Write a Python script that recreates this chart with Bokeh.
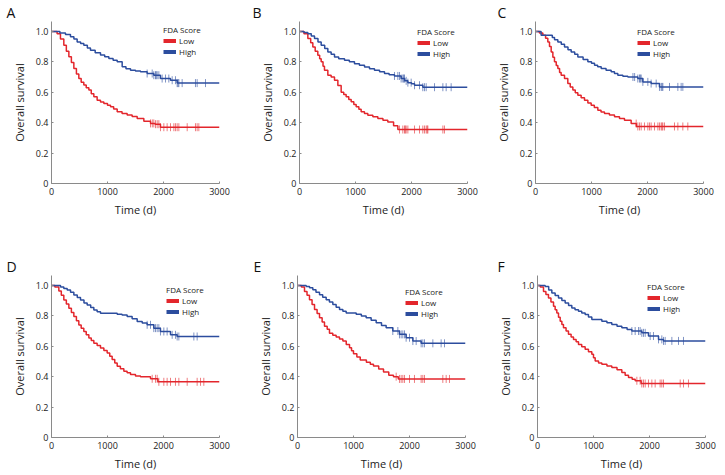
import numpy as np
from bokeh.plotting import figure
from bokeh.models import Range1d, FixedTicker, Legend, LegendItem, Title
from bokeh.layouts import column, row
from bokeh.embed import file_html
from bokeh.resources import INLINE

# ---------------- data ----------------
x_ticks = [0, 1000, 2000, 3000]
y_ticks = [0, 0.2, 0.4, 0.6, 0.8, 1.0]
y_tick_labels = {0: "0", 0.2: "0.2", 0.4: "0.4", 0.6: "0.6", 0.8: "0.8", 1.0: "1.0"}
panel_names = ["A", "B", "C", "D", "E", "F"]
group_names = ["Low", "High"]
legend_title = "FDA Score"
x_label = "Time (d)"
y_label = "Overall survival"

A_low_t = [0, 100, 160, 220, 265, 310, 355, 399, 445, 488, 530, 577, 620, 667, 710, 756, 815, 875, 935, 1000, 1054, 1110, 1173, 1260, 1351, 1440, 1530, 1649, 1768, 1850, 1946, 3000]
A_low_s = [1.0, 0.985, 0.95, 0.909, 0.87, 0.833, 0.795, 0.756, 0.72, 0.69, 0.665, 0.647, 0.63, 0.614, 0.59, 0.57, 0.548, 0.535, 0.526, 0.515, 0.504, 0.49, 0.471, 0.46, 0.45, 0.44, 0.428, 0.41, 0.395, 0.39, 0.37, 0.37]
A_high_t = [0, 150, 250, 339, 400, 458, 520, 577, 640, 696, 780, 875, 950, 1024, 1100, 1173, 1262, 1330, 1411, 1500, 1589, 1708, 1827, 1946, 2125, 2244, 3000]
A_high_s = [1.0, 0.99, 0.98, 0.964, 0.95, 0.931, 0.92, 0.909, 0.89, 0.876, 0.86, 0.844, 0.833, 0.822, 0.81, 0.8, 0.767, 0.755, 0.745, 0.74, 0.734, 0.723, 0.712, 0.69, 0.679, 0.66, 0.66]
A_low_c = [1768, 1800, 1827, 1857, 1887, 1917, 1946, 2006, 2065, 2125, 2185, 2214, 2244, 2274, 2423, 2571, 2601, 2631]
A_high_c = [1708, 1798, 1827, 1857, 1870, 1887, 1917, 1976, 2036, 2095, 2155, 2214, 2244, 2260, 2274, 2333, 2571, 2601, 2750]

B_low_t = [0, 80, 149, 200, 238, 280, 327, 360, 387, 420, 446, 506, 565, 625, 685, 744, 790, 833, 880, 923, 970, 1012, 1060, 1101, 1160, 1220, 1310, 1399, 1490, 1577, 1680, 1756, 3000]
B_low_s = [1.0, 0.985, 0.953, 0.925, 0.898, 0.87, 0.843, 0.82, 0.8, 0.77, 0.745, 0.712, 0.7, 0.678, 0.645, 0.6, 0.585, 0.57, 0.553, 0.537, 0.52, 0.504, 0.488, 0.471, 0.46, 0.449, 0.438, 0.427, 0.416, 0.405, 0.38, 0.355, 0.355]
B_high_t = [0, 80, 149, 210, 268, 330, 387, 450, 506, 565, 625, 700, 804, 890, 982, 1070, 1161, 1250, 1339, 1430, 1518, 1600, 1696, 1815, 1880, 1935, 2000, 2054, 2202, 3000]
B_high_s = [1.0, 0.993, 0.985, 0.97, 0.953, 0.93, 0.909, 0.887, 0.865, 0.85, 0.832, 0.82, 0.81, 0.8, 0.788, 0.777, 0.766, 0.755, 0.745, 0.734, 0.723, 0.715, 0.707, 0.69, 0.675, 0.663, 0.655, 0.646, 0.633, 0.633]
B_low_c = [1786, 1845, 1875, 1890, 1905, 1935, 2054, 2143, 2202, 2232, 2262, 2280, 2292, 2560, 2589]
B_high_c = [1696, 1756, 1786, 1815, 1845, 1860, 1875, 1905, 1935, 1994, 2054, 2143, 2202, 2232, 2262, 2411, 2560, 2619, 2708]

C_low_t = [0, 70, 131, 180, 220, 250, 280, 310, 339, 370, 399, 430, 458, 518, 577, 620, 667, 710, 756, 815, 875, 935, 994, 1050, 1113, 1170, 1232, 1320, 1411, 1500, 1589, 1708, 1800, 3000]
C_low_s = [1.0, 0.99, 0.975, 0.955, 0.93, 0.9, 0.865, 0.83, 0.8, 0.775, 0.756, 0.73, 0.712, 0.69, 0.657, 0.635, 0.614, 0.597, 0.58, 0.564, 0.548, 0.53, 0.515, 0.5, 0.482, 0.47, 0.46, 0.45, 0.438, 0.427, 0.416, 0.394, 0.375, 0.375]
C_high_t = [0, 100, 300, 340, 399, 460, 518, 580, 637, 700, 756, 850, 935, 1000, 1054, 1110, 1173, 1260, 1351, 1410, 1470, 1560, 1649, 1827, 1917, 2065, 2214, 3000]
C_high_s = [1.0, 0.975, 0.96, 0.945, 0.93, 0.915, 0.898, 0.88, 0.865, 0.85, 0.832, 0.815, 0.8, 0.79, 0.778, 0.767, 0.756, 0.745, 0.734, 0.723, 0.712, 0.705, 0.7, 0.69, 0.668, 0.657, 0.635, 0.635]
C_low_c = [1798, 1827, 1857, 1887, 1946, 2006, 2036, 2065, 2125, 2185, 2214, 2244, 2260, 2274, 2304, 2482, 2542, 2631, 2720]
C_high_c = [1740, 1770, 1827, 1857, 1872, 1887, 1917, 2006, 2065, 2155, 2214, 2244, 2260, 2274, 2393, 2542, 2601, 2631]

D_low_t = [0, 60, 131, 175, 220, 265, 310, 355, 399, 445, 488, 530, 577, 620, 667, 710, 756, 815, 875, 935, 994, 1040, 1083, 1130, 1173, 1230, 1292, 1350, 1411, 1500, 1589, 1768, 1900, 3000]
D_low_s = [1.0, 0.99, 0.963, 0.935, 0.904, 0.877, 0.85, 0.822, 0.795, 0.767, 0.74, 0.718, 0.697, 0.675, 0.654, 0.637, 0.62, 0.604, 0.588, 0.572, 0.556, 0.534, 0.512, 0.49, 0.468, 0.452, 0.436, 0.425, 0.414, 0.405, 0.399, 0.386, 0.366, 0.366]
D_high_t = [0, 161, 220, 280, 340, 399, 460, 518, 580, 637, 700, 756, 815, 875, 1173, 1260, 1351, 1440, 1530, 1620, 1708, 1827, 1946, 2125, 2244, 3000]
D_high_s = [1.0, 0.99, 0.98, 0.97, 0.955, 0.937, 0.92, 0.904, 0.885, 0.871, 0.855, 0.839, 0.827, 0.817, 0.81, 0.805, 0.795, 0.78, 0.763, 0.752, 0.741, 0.719, 0.697, 0.675, 0.664, 0.664]
D_low_c = [1798, 1857, 1887, 1917, 2006, 2065, 2125, 2214, 2274, 2423, 2601, 2661, 2720]
D_high_c = [1708, 1768, 1827, 1857, 1887, 1917, 1946, 2006, 2065, 2155, 2214, 2244, 2274, 2542, 2601]

E_low_t = [0, 70, 125, 170, 214, 260, 304, 350, 393, 440, 482, 530, 571, 630, 690, 750, 810, 870, 929, 965, 1000, 1060, 1120, 1230, 1300, 1357, 1450, 1536, 1630, 1714, 1800, 3000]
E_low_s = [1.0, 0.99, 0.96, 0.935, 0.906, 0.875, 0.841, 0.815, 0.787, 0.76, 0.732, 0.712, 0.685, 0.672, 0.66, 0.648, 0.635, 0.612, 0.59, 0.57, 0.55, 0.53, 0.51, 0.495, 0.482, 0.47, 0.45, 0.43, 0.41, 0.4, 0.385, 0.385]
E_high_t = [0, 155, 215, 274, 330, 393, 450, 512, 570, 631, 690, 750, 810, 869, 1048, 1140, 1226, 1315, 1405, 1500, 1583, 1702, 1821, 1940, 2060, 2208, 3000]
E_high_s = [1.0, 0.993, 0.985, 0.972, 0.955, 0.939, 0.922, 0.906, 0.89, 0.874, 0.857, 0.841, 0.83, 0.819, 0.81, 0.798, 0.787, 0.77, 0.754, 0.737, 0.721, 0.7, 0.678, 0.656, 0.634, 0.619, 0.619]
E_low_c = [1762, 1821, 1851, 1881, 1911, 2000, 2089, 2208, 2238, 2268, 2595, 2655, 2714]
E_high_c = [1702, 1792, 1821, 1851, 1881, 1911, 1940, 2000, 2060, 2119, 2208, 2238, 2268, 2417, 2565, 2625]

F_low_t = [0, 50, 107, 150, 196, 240, 286, 315, 345, 375, 405, 435, 464, 510, 553, 600, 643, 690, 732, 790, 851, 910, 970, 1000, 1030, 1090, 1149, 1240, 1327, 1420, 1506, 1565, 1625, 1690, 1744, 1850, 3000]
F_low_s = [1.0, 0.99, 0.96, 0.94, 0.917, 0.89, 0.863, 0.84, 0.819, 0.79, 0.765, 0.743, 0.721, 0.7, 0.678, 0.66, 0.645, 0.63, 0.612, 0.596, 0.58, 0.563, 0.547, 0.525, 0.503, 0.49, 0.481, 0.47, 0.46, 0.445, 0.427, 0.41, 0.394, 0.383, 0.373, 0.355, 0.355]
F_high_t = [0, 137, 200, 256, 315, 375, 435, 494, 555, 613, 670, 732, 790, 851, 910, 970, 1149, 1240, 1327, 1420, 1506, 1600, 1685, 1863, 1982, 2161, 2250, 3000]
F_high_s = [1.0, 0.993, 0.97, 0.95, 0.934, 0.917, 0.9, 0.885, 0.868, 0.852, 0.84, 0.83, 0.818, 0.808, 0.792, 0.776, 0.765, 0.754, 0.743, 0.732, 0.721, 0.71, 0.7, 0.688, 0.667, 0.645, 0.635, 0.635]
F_low_c = [1774, 1833, 1863, 1893, 1923, 1982, 2042, 2101, 2190, 2220, 2250, 2548, 2607, 2696]
F_high_c = [1685, 1744, 1804, 1833, 1863, 1893, 1923, 2012, 2071, 2161, 2220, 2250, 2280, 2399, 2518, 2607]

data = {
    "A": (A_low_t, A_low_s, A_low_c, A_high_t, A_high_s, A_high_c),
    "B": (B_low_t, B_low_s, B_low_c, B_high_t, B_high_s, B_high_c),
    "C": (C_low_t, C_low_s, C_low_c, C_high_t, C_high_s, C_high_c),
    "D": (D_low_t, D_low_s, D_low_c, D_high_t, D_high_s, D_high_c),
    "E": (E_low_t, E_low_s, E_low_c, E_high_t, E_high_s, E_high_c),
    "F": (F_low_t, F_low_s, F_low_c, F_high_t, F_high_s, F_high_c),
}

# ---------------- styling / layout ----------------
RED = "#E3262C"
BLUE = "#2C4D9E"
FONT = "Open Sans"
FRAME_W, FRAME_H = 168, 162
X_END, Y_END = 3000, 1.065
LEG_H = 30

# borders (px), letter offset (px relative to frame left), legend (px from frame left, px from frame top)
geo = {
    "A": dict(left=51, right=21, top=21, bottom=71, letter=-45, leg=(112, 6)),
    "B": dict(left=59, right=13, top=21, bottom=71, letter=-47, leg=(118, 8)),
    "C": dict(left=55, right=17, top=21, bottom=71, letter=-38, leg=(102, 8)),
    "D": dict(left=51, right=21, top=21, bottom=35, letter=-45, leg=(115, 12)),
    "E": dict(left=57, right=15, top=21, bottom=35, letter=-44, leg=(108, 14)),
    "F": dict(left=57, right=15, top=21, bottom=35, letter=-40, leg=(110, 9)),
}


def censor_y(t, s, c):
    t = np.asarray(t)
    s = np.asarray(s)
    idx = np.searchsorted(t, np.asarray(c), side="right") - 1
    return s[idx]


def make_panel(name):
    g = geo[name]
    lt, ls, lc, ht, hs, hc = data[name]
    title = Title(text=name, align="left", offset=g["letter"], standoff=0,
                  text_font=FONT, text_font_size="14px", text_font_style="normal",
                  text_color="#111111")
    p = figure(frame_width=FRAME_W, frame_height=FRAME_H,
               min_border_left=g["left"], min_border_right=g["right"],
               min_border_top=g["top"], min_border_bottom=g["bottom"],
               x_range=Range1d(0, X_END), y_range=Range1d(0, Y_END),
               title=title,
               output_backend="svg", toolbar_location=None,
               background_fill_color="white", border_fill_color="white")
    p.outline_line_color = None
    p.grid.visible = False

    for ax in (p.xaxis[0], p.yaxis[0]):
        ax.axis_line_color = "#8a8a8a"
        ax.axis_line_width = 1
        ax.major_tick_line_color = "#8a8a8a"
        ax.major_tick_in = 2
        ax.major_tick_out = 0
        ax.minor_tick_line_color = None
        ax.major_label_text_font = FONT
        ax.major_label_text_font_size = "9px"
        ax.major_label_text_color = "#222222"
        ax.axis_label_text_font = FONT
        ax.axis_label_text_font_size = "11px"
        ax.axis_label_text_font_style = "normal"
        ax.axis_label_text_color = "#222222"

    p.xaxis.ticker = FixedTicker(ticks=x_ticks)
    p.yaxis.ticker = FixedTicker(ticks=y_ticks)
    p.yaxis.major_label_overrides = y_tick_labels
    p.xaxis.axis_label = x_label
    p.yaxis.axis_label = y_label
    p.xaxis.major_label_standoff = 4
    p.yaxis.major_label_standoff = 3
    p.xaxis.axis_label_standoff = 4
    p.yaxis.axis_label_standoff = 6

    # survival curves
    p.step(lt, ls, mode="after", line_color=RED, line_width=1.5)
    p.step(ht, hs, mode="after", line_color=BLUE, line_width=1.5)
    # censor marks
    p.scatter(lc, censor_y(lt, ls, lc), marker="dash", angle=np.pi / 2, size=8,
              line_color=RED, line_alpha=0.6, line_width=1)
    p.scatter(hc, censor_y(ht, hs, hc), marker="dash", angle=np.pi / 2, size=8,
              line_color=BLUE, line_alpha=0.6, line_width=1)

    # legend sample lines (NaN data: nothing drawn in the plot itself)
    r_low = p.line([np.nan], [np.nan], line_color=RED, line_width=4)
    r_high = p.line([np.nan], [np.nan], line_color=BLUE, line_width=4)
    lgx, lgy = g["leg"]
    leg = Legend(items=[LegendItem(label=group_names[0], renderers=[r_low]),
                        LegendItem(label=group_names[1], renderers=[r_high])],
                 title=legend_title, location=(lgx, FRAME_H - lgy - LEG_H),
                 padding=0, margin=0, spacing=-3,
                 glyph_width=13, glyph_height=9, label_height=9,
                 label_standoff=3, title_standoff=0,
                 label_text_font=FONT, label_text_font_size="8px",
                 label_text_color="#222222",
                 title_text_font=FONT, title_text_font_size="8px",
                 title_text_font_style="normal", title_text_color="#222222",
                 border_line_color=None, background_fill_alpha=0)
    p.add_layout(leg)
    return p


panels = [make_panel(n) for n in panel_names]
layout = column(row(*panels[:3]), row(*panels[3:]))

html = file_html(layout, INLINE)
open("out.html", "w").write(html)
